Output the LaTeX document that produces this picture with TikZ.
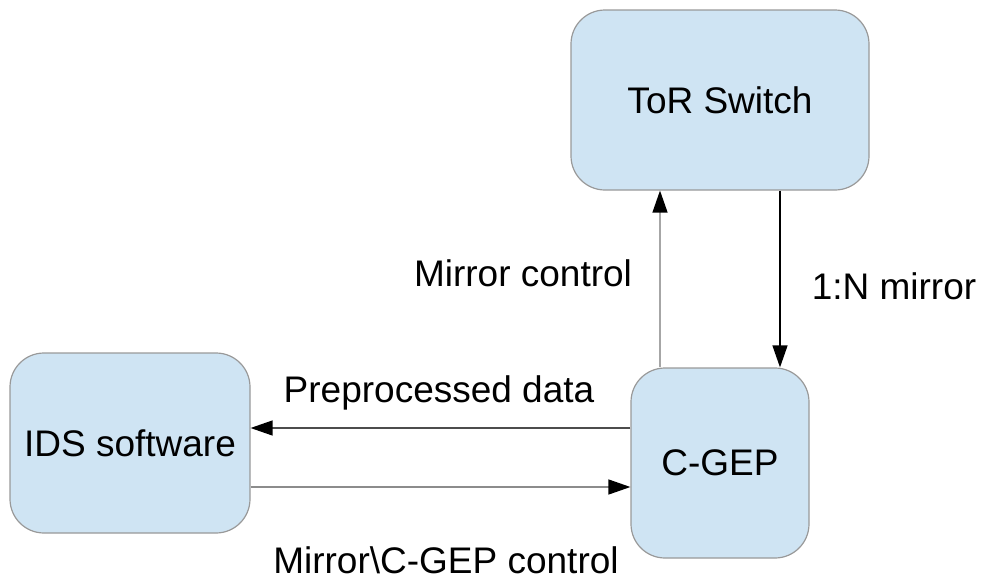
\documentclass[tikz,border=0pt]{standalone}
\usepackage{fontspec}
\setmainfont{Liberation Sans}
\usetikzlibrary{arrows.meta}
\begin{document}
\begin{tikzpicture}[x=1pt,y=-1pt,
  box/.style={draw=black!40,line width=1.2pt,fill=boxblue,rounded corners=34pt,inner sep=0pt,font=\fontsize{37}{44}\selectfont},
  lbl/.style={font=\fontsize{37}{44}\selectfont,inner sep=0pt,anchor=center},
  conn/.style={line width=1.3pt,-{Triangle[length=22pt,width=15pt,color=black]}}]
\definecolor{boxblue}{HTML}{CFE4F3}
\useasboundingbox (0,0) rectangle (988,581);
\node[box,minimum width=298pt,minimum height=180pt] (tor) at (720,100) {ToR Switch};
\node[box,minimum width=178pt,minimum height=190pt] (cgep) at (720,463) {C-GEP};
\node[box,minimum width=240pt,minimum height=180pt] (ids) at (130,443) {IDS software};
\coordinate (ux) at (660,0);
\coordinate (dx) at (780,0);
\coordinate (ly) at (0,428);
\coordinate (ry) at (0,487);
\draw[conn,draw=black!35] (cgep.north -| ux) -- (tor.south -| ux);
\draw[conn,draw=black] (tor.south -| dx) -- (cgep.north -| dx);
\draw[conn,draw=black!70] (cgep.west |- ly) -- (ids.east |- ly);
\draw[conn,draw=black!45] (ids.east |- ry) -- (cgep.west |- ry);
\node[lbl] (lmc) at (523,273) {Mirror control};
\node[lbl] (lnm) at (894,286) {1:N mirror};
\node[lbl] (lpd) at (439,393) {Preprocessed data};
\node[lbl] (lcg) at (446,560) {Mirror\textbackslash C-GEP control};
\end{tikzpicture}
\end{document}
